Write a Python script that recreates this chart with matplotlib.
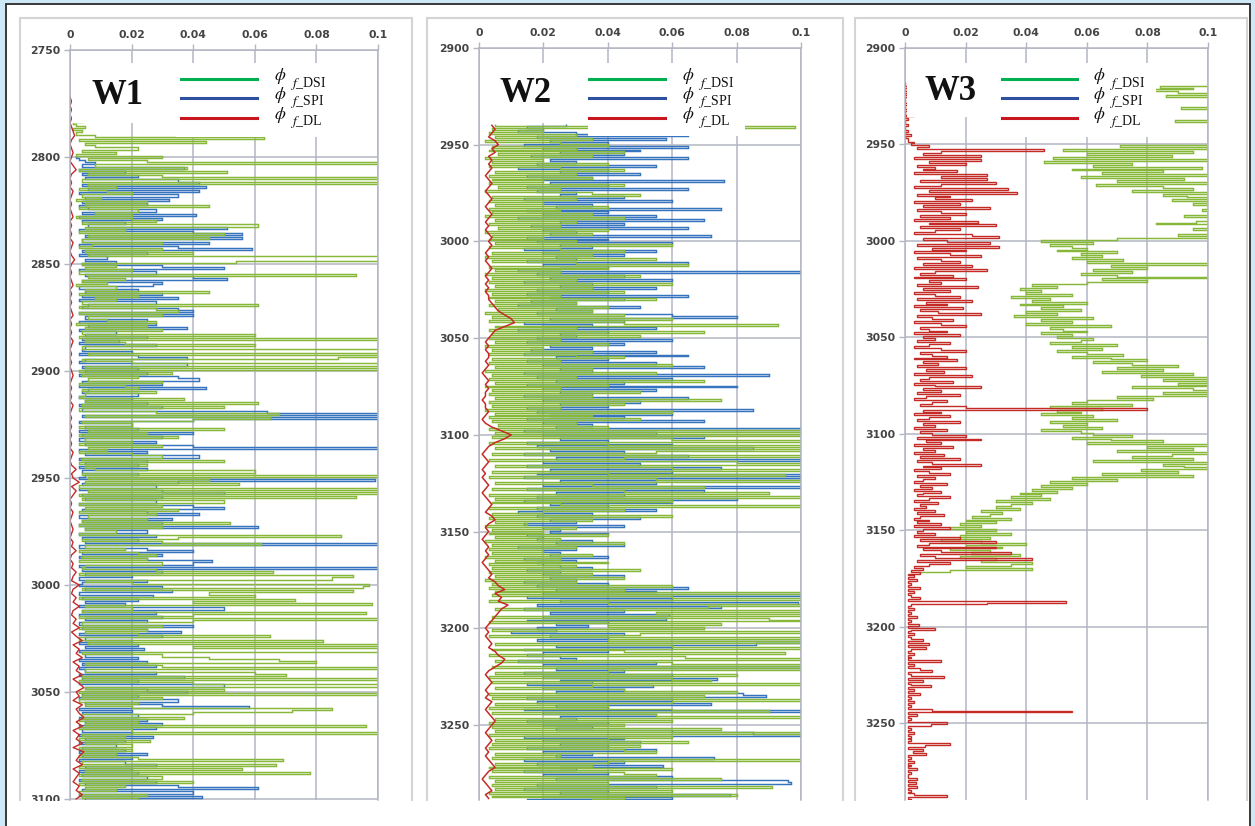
import numpy as np
import matplotlib.pyplot as plt
from matplotlib.patches import Rectangle
from matplotlib.lines import Line2D

plt.rcParams['mathtext.fontset'] = 'stix'

W, H = 1255, 826

# porosity values are stored in units of 0.001 (per mille), depth in m
# ---- W1 ----
w1_dsi_top, w1_dsi_step = 2772, 1
w1_dsi = [
    1, 2, 1, 3, 1, 1, 2, 3, 1, 1,
    2, 4, 1, 2, 5, 1, 4, 2, 8, 63,
    3, 44, 5, 8, 22, 4, 15, 2, 30, 6,
    25, 105, 8, 38, 3, 51, 6, 30, 105, 4,
    105, 6, 15, 3, 12, 20, 4, 10, 2, 25,
    5, 45, 3, 22, 8, 20, 2, 20, 28, 4,
    61, 5, 18, 3, 50, 6, 45, 4, 30, 7,
    3, 30, 5, 40, 6, 105, 100, 54, 4, 15,
    5, 20, 3, 93, 6, 18, 4, 12, 2, 15,
    5, 45, 3, 22, 8, 15, 4, 61, 3, 28,
    35, 3, 30, 6, 12, 28, 2, 25, 5, 30,
    4, 60, 3, 105, 5, 18, 60, 4, 100, 105,
    6, 100, 87, 4, 20, 100, 5, 105, 3, 33,
    4, 22, 6, 30, 3, 18, 22, 4, 28, 5,
    3, 37, 5, 61, 4, 50, 3, 28, 68, 5,
    65, 40, 4, 20, 3, 50, 6, 25, 3, 35,
    5, 20, 3, 30, 6, 12, 3, 20, 30, 4,
    50, 3, 25, 5, 8, 60, 4, 100, 6, 45,
    5, 55, 3, 105, 6, 105, 3, 93, 4, 50,
    3, 30, 5, 35, 3, 28, 6, 25, 4, 52,
    3, 30, 5, 15, 3, 88, 35, 4, 30, 62,
    5, 18, 3, 22, 28, 4, 25, 3, 30, 5,
    4, 28, 66, 3, 92, 85, 5, 20, 97, 95,
    4, 92, 45, 60, 3, 73, 40, 98, 5, 20,
    4, 96, 40, 3, 100, 40, 4, 30, 3, 25,
    5, 22, 65, 3, 82, 6, 100, 40, 100, 100,
    4, 30, 45, 68, 80, 5, 30, 105, 5, 60,
    70, 4, 100, 3, 40, 100, 5, 50, 3, 100,
    4, 30, 3, 22, 5, 20, 85, 72, 40, 4,
    37, 3, 22, 5, 96, 3, 20, 100, 4, 18,
    3, 26, 5, 20, 3, 20, 4, 15, 3, 22,
    69, 4, 67, 3, 56, 5, 78, 3, 30, 4,
    40, 3, 18, 5, 15, 3, 25, 4, 22,
]
w1_spi_top, w1_spi_step = 2800, 1
w1_spi = [
    2, 3, 5, 8, 4, 37, 3, 18, 4, 22,
    5, 35, 42, 4, 44, 6, 42, 3, 35, 5,
    32, 4, 25, 3, 6, 28, 4, 41, 3, 30,
    4, 18, 6, 51, 3, 40, 56, 5, 56, 4,
    45, 3, 35, 59, 4, 25, 3, 12, 5, 15,
    4, 30, 50, 3, 28, 5, 40, 51, 4, 30,
    27, 3, 22, 5, 30, 4, 35, 3, 28, 6,
    4, 35, 40, 3, 40, 5, 25, 3, 28, 6,
    38, 3, 15, 5, 25, 4, 16, 3, 28, 5,
    4, 20, 3, 22, 38, 5, 3, 38, 4, 22,
    5, 25, 3, 35, 42, 4, 30, 3, 44, 6,
    4, 22, 3, 20, 5, 25, 3, 30, 4, 64,
    105, 4, 105, 40, 3, 20, 5, 22, 3, 40,
    4, 30, 3, 28, 5, 40, 105, 3, 25, 5,
    42, 3, 25, 5, 22, 3, 25, 4, 22, 5,
    3, 99, 35, 4, 28, 3, 30, 50, 4, 30,
    5, 28, 3, 40, 50, 4, 25, 42, 3, 33,
    4, 30, 3, 61, 5, 25, 3, 28, 4, 22,
    5, 105, 3, 25, 40, 4, 30, 3, 25, 46,
    40, 3, 105, 4, 30, 5, 20, 3, 25, 4,
    3, 30, 5, 33, 3, 27, 4, 22, 5, 18,
    3, 50, 4, 28, 3, 30, 5, 25, 3, 40,
    4, 25, 36, 3, 30, 5, 20, 3, 22, 5,
    24, 3, 20, 5, 22, 3, 25, 4, 28, 3,
    5, 28, 3, 37, 4, 22, 3, 50, 5, 25,
    38, 4, 22, 3, 35, 5, 30, 58, 3, 20,
    4, 22, 3, 25, 5, 30, 3, 28, 4, 20,
    3, 27, 5, 18, 3, 15, 4, 18, 3, 25,
    4, 20, 3, 18, 28, 5, 20, 3, 22, 4,
    25, 3, 28, 5, 35, 61, 4, 40, 3, 43,
    5,
]
w1_dl_top, w1_dl_step = 2772, 2
w1_dl = [
    0, 0.5, 0, 0.5, 1, 0.5, 0, 0.5, 1, 1.5,
    0.5, 0, 0.5, 1, 0.5, 0, 1, 2, 0.5, 0,
    0.5, 0, 1, 0.5, 0, 0.5, 0, 0.5, 1, 0,
    0.5, 0, 0.5, 0, 1, 0.5, 0, 0.5, 1.5, 0.5,
    0, 0.5, 0, 0.5, 1, 0, 0.5, 0, 0.5, 0,
    0.5, 1, 0, 0.5, 0, 0.5, 0, 1, 0.5, 0,
    0.5, 0, 0.5, 0, 0.5, 1, 0.5, 0, 0.5, 0,
    0.5, 0, 1, 0.5, 0, 0.5, 0, 0.5, 0, 0.5,
    0, 0.5, 0, 1, 0.5, 0, 0.5, 2, 0.5, 1,
    3, 0.5, 2, 1, 0, 0.5, 0, 1, 0.5, 0,
    0.5, 1, 0.5, 0, 1, 0.5, 2, 0.5, 0, 1,
    0.5, 2, 1, 0.5, 3, 1, 0.5, 2, 1, 3,
    1, 0.5, 2, 1, 3, 0.5, 2, 4, 1, 3,
    2, 4, 1, 3, 2, 4, 1, 3, 4.5, 2,
    3, 1, 4, 2, 3, 4.5, 2, 4, 1, 3,
    2, 4, 1, 4.5, 3, 2, 4, 1, 3, 2,
    1, 3, 2, 4, 2,
]

# ---- W2 ----
w2_dsi_top, w2_dsi_step = 2940, 1
w2_dsi = [
    5, 98, 4, 20, 3, 30, 5, 35, 2, 25,
    40, 4, 30, 3, 45, 6, 35, 2, 20, 4,
    40, 3, 25, 45, 5, 30, 3, 35, 4, 20,
    3, 45, 6, 25, 2, 35, 50, 4, 30, 3,
    20, 5, 40, 3, 25, 4, 35, 2, 45, 5,
    30, 3, 25, 6, 40, 2, 35, 4, 20, 3,
    30, 5, 60, 3, 25, 45, 4, 35, 2, 55,
    4, 30, 65, 3, 40, 5, 25, 2, 50, 4,
    30, 3, 60, 5, 35, 2, 45, 4, 25, 3,
    55, 5, 30, 3, 40, 6, 35, 2, 45, 4,
    60, 3, 45, 93, 5, 30, 3, 70, 4, 50,
    3, 25, 5, 40, 2, 20, 4, 35, 3, 30,
    45, 4, 25, 3, 60, 5, 35, 2, 55, 4,
    30, 3, 70, 5, 40, 2, 25, 4, 50, 3,
    35, 5, 75, 3, 45, 4, 25, 2, 60, 5,
    35, 3, 50, 4, 30, 6, 40, 3, 100, 5,
    100, 4, 60, 100, 3, 40, 100, 5, 100, 55,
    4, 100, 45, 3, 80, 100, 5, 60, 100, 4,
    40, 95, 3, 55, 100, 5, 35, 70, 4, 45,
    90, 3, 100, 5, 60, 4, 25, 100, 3, 45,
    20, 4, 60, 3, 35, 5, 15, 2, 30, 4,
    20, 3, 40, 5, 25, 2, 45, 4, 30, 3,
    20, 4, 35, 2, 25, 5, 40, 3, 30, 4,
    50, 3, 35, 5, 45, 2, 30, 4, 60, 3,
    45, 5, 100, 4, 60, 100, 3, 40, 100, 71,
    5, 100, 55, 100, 4, 90, 100, 3, 75, 40,
    70, 4, 100, 50, 3, 100, 40, 100, 5, 60,
    100, 4, 45, 95, 3, 64, 100, 5, 60, 100,
    4, 100, 40, 5, 80, 3, 60, 72, 4, 100,
    35, 5, 45, 80, 3, 70, 4, 100, 60, 5,
    40, 3, 60, 90, 4, 55, 100, 5, 60, 3,
    45, 4, 75, 5, 100, 3, 60, 40, 5, 65,
    4, 50, 3, 45, 55, 5, 25, 4, 100, 40,
    5, 35, 3, 60, 4, 45, 55, 3, 75, 5,
    40, 4, 91, 5, 60, 3, 80, 4, 45, 35,
]
w2_spi_top, w2_spi_step = 2940, 1
w2_spi = [
    27, 15, 20, 12, 30, 65, 18, 58, 22, 40,
    14, 65, 20, 50, 25, 45, 16, 65, 22, 30,
    18, 55, 12, 40, 25, 50, 15, 35, 20, 76,
    22, 40, 15, 65, 18, 30, 25, 45, 14, 60,
    20, 35, 24, 75, 15, 40, 20, 55, 12, 70,
    25, 45, 16, 65, 20, 30, 22, 72, 15, 40,
    18, 60, 25, 35, 14, 55, 20, 45, 24, 30,
    15, 65, 20, 40, 25, 12, 100, 18, 45, 22,
    60, 14, 35, 25, 55, 18, 40, 15, 65, 22,
    45, 16, 30, 12, 50, 24, 35, 18, 60, 80,
    22, 45, 14, 35, 20, 55, 12, 40, 25, 30,
    18, 60, 15, 45, 22, 35, 16, 55, 14, 65,
    24, 40, 15, 55, 20, 70, 25, 35, 14, 90,
    18, 60, 24, 45, 15, 80, 20, 55, 25, 35,
    14, 65, 20, 50, 25, 40, 15, 85, 18, 60,
    22, 45, 15, 70, 20, 35, 24, 100, 14, 55,
    20, 70, 25, 40, 15, 60, 18, 85, 22, 45,
    14, 65, 24, 100, 20, 50, 15, 75, 22, 60,
    18, 100, 14, 100, 25, 55, 20, 100, 15, 70,
    24, 45, 18, 80, 14, 60, 22, 40, 18, 55,
    12, 35, 18, 50, 22, 30, 14, 45, 20, 25,
    22, 40, 15, 20, 18, 35, 24, 45, 12, 30,
    20, 25, 22, 40, 14, 30, 18, 20, 25, 35,
    15, 25, 20, 45, 22, 30, 14, 40, 18, 65,
    24, 55, 20, 100, 15, 60, 25, 99, 18, 75,
    14, 45, 22, 59, 20, 58, 15, 40, 24, 34,
    18, 24, 10, 45, 22, 40, 18, 100, 86, 24,
    60, 14, 40, 20, 15, 25, 30, 12, 55, 20,
    100, 24, 45, 14, 60, 20, 74, 25, 35, 15,
    54, 20, 45, 24, 82, 89, 15, 60, 18, 72,
    24, 40, 14, 100, 20, 55, 25, 30, 15, 40,
    20, 35, 24, 60, 85, 100, 14, 45, 20, 50,
    25, 40, 15, 55, 20, 35, 24, 73, 14, 45,
    18, 57, 25, 30, 14, 40, 20, 60, 24, 96,
    97, 18, 55, 14, 40, 25, 78, 20, 60, 15,
]
w2_dl_top, w2_dl_step = 2940, 2
w2_dl = [
    4, 5, 4, 3, 5, 6, 4, 5, 3, 4,
    3, 4, 3, 2, 3, 4, 3, 2, 3, 4,
    3, 2, 3, 4, 3, 2, 3, 2, 3, 4,
    3, 4, 3, 2, 3, 2, 3, 4, 3, 2,
    3, 2, 3, 2, 3, 3, 4, 5, 6, 8,
    10, 11, 8, 5, 4, 3, 2, 3, 2, 3,
    3, 2, 3, 2, 1, 2, 3, 2, 3, 2,
    2, 1, 2, 2, 3, 2, 1, 2, 4, 7,
    10, 8, 5, 3, 2, 1, 2, 3, 2, 1,
    2, 1, 2, 3, 2, 1, 2, 3, 4, 3,
    2, 4, 5, 3, 2, 3, 2, 1, 2, 3,
    2, 3, 2, 1, 2, 3, 4, 3, 5, 6,
    8, 5, 7, 6, 9, 7, 6, 5, 4, 3,
    2, 3, 2, 3, 4, 3, 5, 6, 8, 7,
    5, 3, 2, 3, 4, 3, 2, 3, 2, 4,
    3, 2, 3, 4, 5, 4, 3, 2, 3, 4,
    3, 2, 3, 2, 3, 4, 5, 3, 2, 1,
    2, 3, 4, 2, 3,
]

# ---- W3 ----
w3_dsi_top, w3_dsi_step = 2918, 1
w3_dsi = [
    120, 120, 84, 95, 82, 90, 120, 86, 120, 110,
    120, 120, 120, 91, 120, 120, 120, 120, 120, 120,
    89, 120, 120, 120, 120, 120, 120, 120, 120, 120,
    120, 110, 120, 71, 100, 52, 95, 60, 88, 49,
    100, 46, 75, 62, 98, 55, 85, 65, 100, 58,
    92, 70, 100, 63, 85, 95, 75, 100, 85, 93,
    100, 88, 120, 95, 100, 110, 98, 120, 100, 92,
    120, 100, 96, 83, 100, 120, 95, 110, 100, 90,
    100, 70, 45, 62, 48, 55, 60, 50, 70, 58,
    65, 55, 72, 60, 100, 68, 80, 62, 75, 58,
    70, 100, 65, 80, 60, 42, 50, 38, 45, 40,
    55, 35, 48, 42, 60, 38, 52, 45, 58, 40,
    50, 36, 62, 45, 55, 40, 68, 48, 52, 60,
    45, 55, 50, 62, 58, 48, 70, 55, 65, 50,
    60, 72, 55, 68, 80, 62, 75, 90, 70, 85,
    65, 95, 78, 100, 85, 100, 90, 100, 75, 95,
    100, 85, 100, 70, 82, 60, 55, 75, 48, 65,
    50, 58, 45, 62, 55, 70, 48, 60, 52, 65,
    45, 58, 62, 75, 55, 68, 85, 60, 100, 80,
    95, 70, 100, 88, 75, 95, 62, 100, 85, 92,
    100, 78, 90, 65, 95, 55, 70, 48, 60, 45,
    55, 42, 50, 38, 45, 35, 48, 30, 42, 35,
    30, 38, 25, 32, 28, 22, 35, 20, 30, 18,
    25, 15, 30, 20, 35, 18, 28, 12, 25, 40,
    20, 32, 15, 28, 22, 38, 18, 30, 25, 42,
    35, 20, 42, 15, 5,
]
w3_dl_top, w3_dl_step = 2918, 1
w3_dl = [
    0, 0, 1, 0, 0, 2, 0, 1, 0, 0,
    0, 1, 0, 0, 1, 0, 0, 3, 0, 1,
    0, 0, 1, 0, 0, 1, 0, 2, 0, 1,
    1, 3, 2, 8, 4, 46, 12, 6, 25, 3,
    25, 8, 20, 4, 10, 6, 17, 3, 27, 12,
    27, 5, 30, 12, 3, 34, 8, 37, 4, 15,
    10, 22, 3, 18, 6, 28, 4, 12, 20, 5,
    15, 3, 24, 8, 30, 5, 18, 10, 3, 22,
    31, 6, 14, 28, 4, 31, 9, 20, 3, 15,
    25, 4, 12, 18, 6, 22, 3, 27, 10, 5,
    16, 3, 20, 8, 12, 4, 24, 6, 15, 3,
    10, 18, 4, 22, 7, 14, 3, 19, 5, 11,
    25, 4, 9, 16, 3, 12, 20, 5, 8, 14,
    3, 18, 6, 10, 4, 15, 8, 3, 12, 20,
    5, 9, 14, 3, 17, 6, 11, 4, 20, 7,
    13, 3, 22, 8, 5, 16, 3, 10, 25, 6,
    12, 4, 18, 7, 3, 14, 9, 5, 20, 80,
    6, 12, 3, 15, 8, 4, 18, 6, 10, 3,
    14, 5, 9, 20, 4, 25, 7, 12, 3, 16,
    6, 10, 3, 13, 5, 18, 4, 9, 25, 6,
    12, 3, 8, 15, 4, 10, 6, 3, 14, 5,
    9, 3, 12, 6, 4, 15, 8, 3, 11, 5,
    7, 3, 10, 4, 13, 5, 3, 8, 4, 12,
    3, 15, 6, 4, 10, 3, 18, 5, 30, 8,
    4, 30, 6, 12, 35, 5, 10, 42, 4, 15,
    8, 3, 6, 2, 5, 1, 3, 1, 4, 1,
    2, 1, 5, 1, 3, 1, 2, 5, 1, 53,
    27, 2, 1, 3, 1, 2, 1, 4, 1, 2,
    1, 4.5, 1, 10, 2, 1, 3, 1, 2, 6,
    1, 8, 1, 7, 2, 1, 3, 1, 2, 1,
    12, 1, 3, 1, 5, 9, 1, 2, 13, 1,
    6, 1, 2, 8.5, 1, 3, 1, 5, 1, 2,
    1, 3, 1, 2, 1, 9, 55, 1, 4, 1,
    2, 1, 14, 8.5, 1, 2, 1, 3, 1, 2,
    1, 2, 1, 15, 6.5, 1, 6, 2.5, 7, 1,
    2, 1, 3, 1, 2, 1, 4, 1, 2, 1,
    1, 4, 1, 3.5, 1, 4, 1, 2, 1, 3,
    14, 1, 2,
]

legend_subs = [r'$f$_DSI', r'$f$_SPI', r'$f$_DL']
line_colors = {'dsi': '#87b83a', 'spi': '#3774be', 'dl': '#c42b26'}
legend_colors = ['#00b050', '#2f4f9f', '#c8161e']

# series are listed in drawing order (SPI under DSI, DL on top); last item is line width
wells = [
    dict(name='W1', ax=(70, 50, 378, 800), ylim=(3100.5, 2750), yticks=np.arange(2750, 3101, 50),
         frame=(20, 18, 412, 830), title=(118, 95), tbox=(72, 63, 176, 123), lbox=(176, 63, 342, 137),
         leg=(181, 257), lab=274,
         series=[('spi', w1_spi_top, w1_spi_step, w1_spi, True, 1.05),
                 ('dsi', w1_dsi_top, w1_dsi_step, w1_dsi, True, 1.05),
                 ('dl', w1_dl_top, w1_dl_step, w1_dl, False, 1.0)]),
    dict(name='W2', ax=(479, 48, 801, 800), ylim=(3288.8, 2900), yticks=np.arange(2900, 3251, 50),
         frame=(427, 18, 843, 830), title=(526, 93), tbox=(481, 63, 588, 123), lbox=(588, 63, 745, 136),
         leg=(589, 665), lab=682,
         series=[('spi', w2_spi_top, w2_spi_step, w2_spi, True, 1.05),
                 ('dsi', w2_dsi_top, w2_dsi_step, w2_dsi, True, 1.05),
                 ('dl', w2_dl_top, w2_dl_step, w2_dl, False, 1.1)]),
    dict(name='W3', ax=(905, 48, 1208, 800), ylim=(3289.9, 2900), yticks=np.arange(2900, 3251, 50),
         frame=(855, 18, 1247, 830), title=(951, 91), tbox=(907, 63, 1000, 117), lbox=(1000, 63, 1156, 137),
         leg=(1002, 1077), lab=1093,
         series=[('dsi', w3_dsi_top, w3_dsi_step, w3_dsi, True, 1.05),
                 ('dl', w3_dl_top, w3_dl_step, w3_dl, True, 1.0)]),
]
legend_rows = (79, 98, 118)


def fx(x):
    return x / W


def fy(y):
    return 1 - y / H


def rect_px(fig, x0, y0, x1, y1, **kw):
    r = Rectangle((fx(x0), fy(y1)), fx(x1) - fx(x0), fy(y0) - fy(y1), transform=fig.transFigure, **kw)
    fig.add_artist(r)
    return r


fig = plt.figure(figsize=(W / 100, H / 100), dpi=100, facecolor='#cfe8f7')
rect_px(fig, 6, 4, 1250, 840, facecolor='white', edgecolor='none', zorder=-2)

grid_c = '#b3b6c2'
for well in wells:
    x0, y0, x1, y1 = well['ax']
    ax = fig.add_axes([fx(x0), fy(y1), fx(x1) - fx(x0), fy(y0) - fy(y1)])
    ax.set_facecolor('white')
    for key, top, step, vals, stepped, lw in well['series']:
        v = np.array(vals) / 1000.0
        if stepped:
            # each sample covers one depth interval
            edges = top - step / 2 + step * np.arange(len(v) + 1)
            ax.stairs(v, edges, orientation='horizontal', baseline=None,
                      color=line_colors[key], lw=lw)
        else:
            depth = top + step * np.arange(len(v))
            ax.plot(v, depth, color=line_colors[key], lw=lw)
    ax.set_xlim(0, 0.1)
    ax.set_ylim(*well['ylim'])
    ax.set_xticks(np.arange(0, 0.101, 0.02))
    ax.set_xticklabels(['0', '0.02', '0.04', '0.06', '0.08', '0.1'])
    ax.set_yticks(well['yticks'])
    ax.xaxis.tick_top()
    ax.grid(True, color=grid_c, lw=1.1)
    ax.set_axisbelow(True)
    ax.tick_params(axis='both', length=4, width=1, color=grid_c, labelsize=7.8, labelcolor='#444444')
    ax.tick_params(axis='x', pad=3.5)
    ax.tick_params(axis='y', pad=3)
    for lab in ax.get_xticklabels() + ax.get_yticklabels():
        lab.set_fontweight('bold')
    for side in ['top', 'left', 'right']:
        ax.spines[side].set_color(grid_c)
        ax.spines[side].set_linewidth(1.1)
    ax.spines['bottom'].set_visible(False)

    # chart frame
    fx0, fy0, fx1, fy1 = well['frame']
    rect_px(fig, fx0, fy0, fx1, fy1, facecolor='none', edgecolor='#d4d4d4', lw=1.5, zorder=1)

    # white boxes for well name and legend
    rect_px(fig, *well['tbox'], facecolor='white', edgecolor='none', zorder=3)
    rect_px(fig, *well['lbox'], facecolor='white', edgecolor='none', zorder=3)
    tx, ty = well['title']
    fig.text(fx(tx), fy(ty), well['name'], fontsize=25, fontweight='bold', family='Liberation Serif',
             ha='center', va='center', color='#111111', zorder=4)
    lx0, lx1 = well['leg']
    lab_x = well['lab']
    for yrow, col, sub in zip(legend_rows, legend_colors, legend_subs):
        fig.add_artist(Line2D([fx(lx0), fx(lx1)], [fy(yrow), fy(yrow)], transform=fig.transFigure,
                              color=col, lw=2.2, zorder=4))
        fig.text(fx(lab_x), fy(yrow - 3), r'$\phi$', fontsize=12.5, ha='left', va='center',
                 color='#111111', zorder=4)
        fig.text(fx(lab_x + 16), fy(yrow + 4), sub, fontsize=10, family='Liberation Serif',
                 ha='left', va='center', color='#111111', zorder=4)

# cut-off at the bottom of the cropped charts
rect_px(fig, 7, 800.5, 1249, 840, facecolor='white', edgecolor='none', zorder=5)
rect_px(fig, 6, 4, 1250, 840, facecolor='none', edgecolor='#2a2a2a', lw=1.3, zorder=6)

fig.savefig('out.png', dpi=100, facecolor=fig.get_facecolor())
